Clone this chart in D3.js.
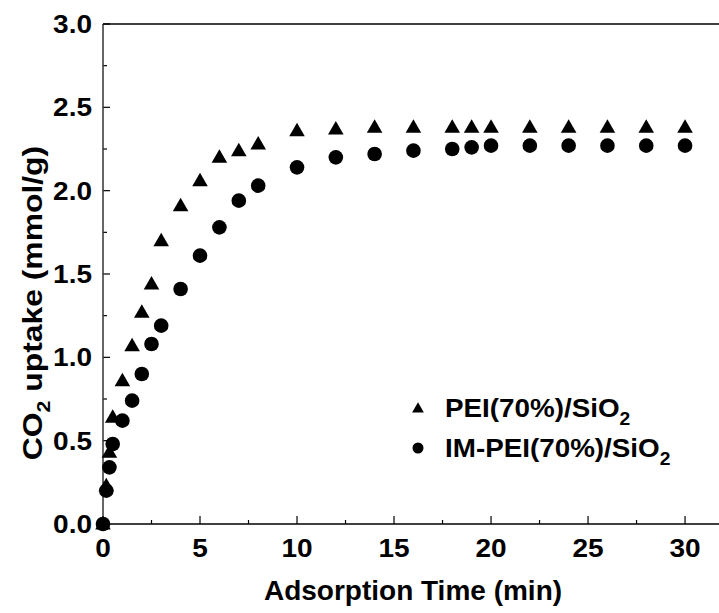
<!DOCTYPE html>
<html>
<head>
<meta charset="utf-8">
<script src="https://cdn.jsdelivr.net/npm/d3@7"></script>
<style>
  body { margin: 0; background: #fff; }
  text { font-family: "Liberation Sans", Arial, sans-serif; font-weight: bold; fill: #000; }
</style>
</head>
<body>
<div id="chart"></div>
<script>
// adsorption times (min), shared by both samples
var times = [0, 0.17, 0.33, 0.5, 1, 1.5, 2, 2.5, 3, 4, 5, 6, 7, 8, 10, 12, 14, 16, 18, 19, 20, 22, 24, 26, 28, 30];

// PEI(70%)/SiO2 uptake (triangles)
var peiUptake = [0, 0.23, 0.43, 0.64, 0.86, 1.07, 1.27, 1.44, 1.70, 1.91, 2.06, 2.20, 2.24, 2.28, 2.36, 2.37, 2.38, 2.38, 2.38, 2.38, 2.38, 2.38, 2.38, 2.38, 2.38, 2.38];

// IM-PEI(70%)/SiO2 uptake (circles)
var imPeiUptake = [0, 0.20, 0.34, 0.48, 0.62, 0.74, 0.90, 1.08, 1.19, 1.41, 1.61, 1.78, 1.94, 2.03, 2.14, 2.20, 2.22, 2.24, 2.25, 2.26, 2.27, 2.27, 2.27, 2.27, 2.27, 2.27];

var xTicks = [0, 5, 10, 15, 20, 25, 30];
var yTicks = [0, 0.5, 1.0, 1.5, 2.0, 2.5, 3.0];

var W = 719, H = 613;
var plotLeft = 103, plotTop = 24, plotBottom = 524;

var svg = d3.select("#chart")
  .append("svg")
  .attr("width", W)
  .attr("height", H);

var x = d3.scaleLinear().domain([0, 31.75]).range([plotLeft, W]);
var y = d3.scaleLinear().domain([0, 3]).range([plotBottom, plotTop]);

// minor ticks
var xMinor = d3.range(2.5, 31, 5);
var yMinor = d3.range(0.25, 3, 0.5);

svg.selectAll("xminor").data(xMinor).enter().append("line")
  .attr("x1", d => x(d)).attr("x2", d => x(d))
  .attr("y1", plotBottom).attr("y2", plotBottom - 4)
  .attr("stroke", "#000").attr("stroke-width", 1.2);
svg.selectAll("xmajor").data(xTicks).enter().append("line")
  .attr("x1", d => x(d)).attr("x2", d => x(d))
  .attr("y1", plotBottom).attr("y2", plotBottom - 8)
  .attr("stroke", "#000").attr("stroke-width", 1.2);

svg.selectAll("yminor").data(yMinor).enter().append("line")
  .attr("x1", plotLeft).attr("x2", plotLeft + 4)
  .attr("y1", d => y(d)).attr("y2", d => y(d))
  .attr("stroke", "#000").attr("stroke-width", 1.2);
svg.selectAll("ymajor").data(yTicks).enter().append("line")
  .attr("x1", plotLeft).attr("x2", plotLeft + 7)
  .attr("y1", d => y(d)).attr("y2", d => y(d))
  .attr("stroke", "#000").attr("stroke-width", 1.2);

// frame: left, bottom, top
svg.append("line").attr("x1", plotLeft).attr("x2", plotLeft).attr("y1", plotTop).attr("y2", plotBottom)
  .attr("stroke", "#333").attr("stroke-width", 1.5);
svg.append("line").attr("x1", plotLeft).attr("x2", W).attr("y1", plotBottom).attr("y2", plotBottom)
  .attr("stroke", "#000").attr("stroke-width", 1.5);
svg.append("line").attr("x1", plotLeft).attr("x2", W).attr("y1", plotTop).attr("y2", plotTop)
  .attr("stroke", "#000").attr("stroke-width", 1.5);

// tick labels (slightly widened like the original face)
svg.selectAll("xlab").data(xTicks).enter().append("text")
  .attr("transform", d => "translate(" + x(d) + ",557) scale(1.12,1)")
  .attr("text-anchor", "middle")
  .style("font-size", "25px")
  .text(d => d);

svg.selectAll("ylab").data(yTicks).enter().append("text")
  .attr("transform", d => "translate(92," + (y(d) + 9) + ") scale(1.12,1)")
  .attr("text-anchor", "end")
  .style("font-size", "25px")
  .text(d => d.toFixed(1));

// axis titles
svg.append("text")
  .attr("x", 413).attr("y", 600)
  .attr("text-anchor", "middle")
  .style("font-size", "28px")
  .text("Adsorption Time (min)");

var yt = svg.append("text")
  .attr("transform", "translate(42,303) rotate(-90) scale(1.18,1)")
  .attr("text-anchor", "middle")
  .style("font-size", "27px");
yt.append("tspan").text("CO");
yt.append("tspan").attr("dy", 8).style("font-size", "18px").text("2");
yt.append("tspan").attr("dy", -8).text(" uptake (mmol/g)");

// points
var tri = d3.symbol().type(d3.symbolTriangle).size(105);
var peiData = times.map((t, i) => ({t: t, v: peiUptake[i]}));
var imData = times.map((t, i) => ({t: t, v: imPeiUptake[i]}));

svg.selectAll("tri").data(peiData).enter().append("path")
  .attr("d", tri)
  .attr("transform", d => "translate(" + x(d.t) + "," + (y(d.v) + 1) + ")")
  .attr("fill", "#000");

svg.selectAll("circ").data(imData).enter().append("circle")
  .attr("cx", d => x(d.t)).attr("cy", d => y(d.v))
  .attr("r", 7.3)
  .attr("fill", "#000");

// legend
var legend = svg.append("g");
legend.append("path")
  .attr("d", d3.symbol().type(d3.symbolTriangle).size(60))
  .attr("transform", "translate(418,409)");
legend.append("circle").attr("cx", 418).attr("cy", 448).attr("r", 5.5);

var l1 = legend.append("text")
  .attr("transform", "translate(445,417) scale(1.07,1)")
  .style("font-size", "26px");
l1.append("tspan").text("PEI(70%)/SiO");
l1.append("tspan").attr("dy", 8).style("font-size", "18px").text("2");

var l2 = legend.append("text")
  .attr("transform", "translate(445,457) scale(1.07,1)")
  .style("font-size", "26px");
l2.append("tspan").text("IM-PEI(70%)/SiO");
l2.append("tspan").attr("dy", 8).style("font-size", "18px").text("2");
</script>
</body>
</html>
